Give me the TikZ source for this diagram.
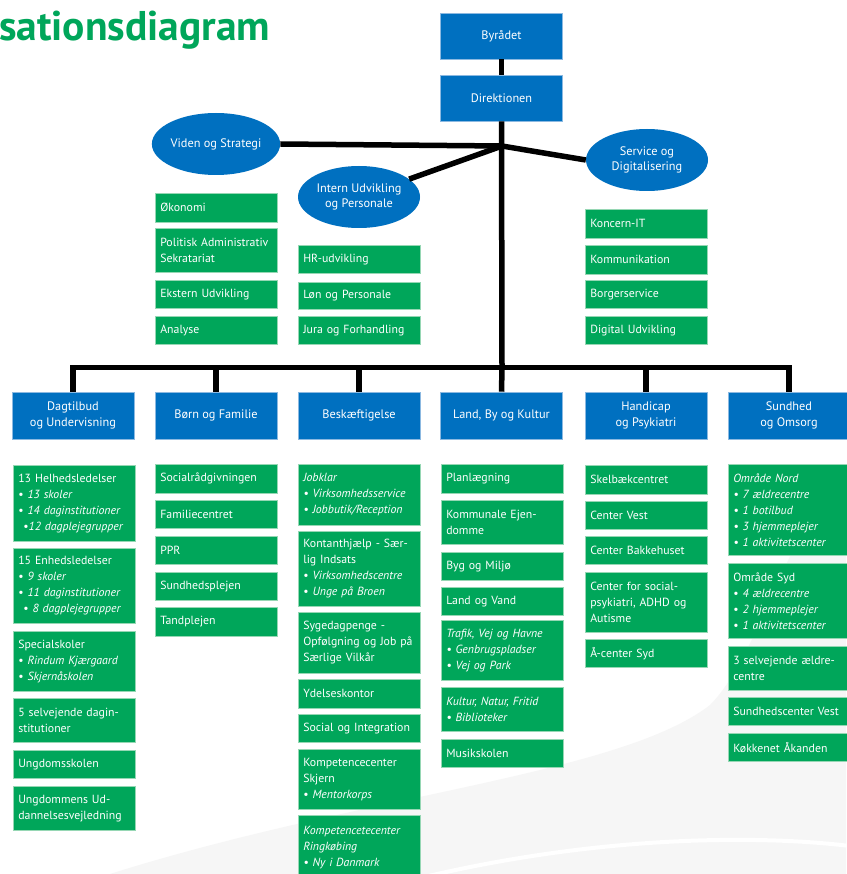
\documentclass[tikz,border=0pt]{standalone}
\usepackage{fontspec}
\setmainfont{PT Sans}
\usetikzlibrary{shapes.geometric}
\definecolor{kblue}{RGB}{0,112,192}
\definecolor{kgreen}{RGB}{0,166,90}
\definecolor{kedge}{RGB}{150,215,180}
\definecolor{kbedge}{RGB}{140,185,225}
\definecolor{kback}{RGB}{246,246,246}
\newcommand{\bul}{\textbullet\ }
\tikzset{
  bluebox/.style={rectangle, fill=kblue, draw=kbedge, line width=0.6pt, text=white, align=center,
    minimum width=122pt, inner sep=2pt, font=\fontsize{12.3}{15.5}\selectfont},
  blueell/.style={ellipse, fill=kblue, text=white, align=center, minimum width=122pt,
    minimum height=62pt, inner sep=0pt, font=\fontsize{12.3}{15.5}\selectfont},
  gbox/.style={rectangle, anchor=north west, fill=kgreen, draw=kedge, line width=0.6pt, text=white,
    text width=112pt, align=left, inner xsep=5pt, inner ysep=2pt,
    font=\fontsize{11.8}{16}\selectfont},
  conn/.style={line width=5.5pt, black},
}
\begin{document}
\begin{tikzpicture}[x=1pt,y=-1pt]
\useasboundingbox (0,0) rectangle (846,874);
\fill[white] (0,0) rectangle (846,874);
% background swoosh
\fill[kback] (110,874) .. controls (360,795) and (620,775) .. (710,705)
  .. controls (760,655) and (790,520) .. (846,470) -- (846,874) -- cycle;
\draw[white, line width=4pt] (420,878) .. controls (600,835) and (760,835) .. (850,846);
% title
\node[anchor=base west, inner sep=0pt, text=kgreen, font=\fontsize{41.5}{46}\bfseries\selectfont] (title) at (-1,41) {sationsdiagram};
% top
\node[bluebox, minimum height=46pt] (byr) at (501.5,36) {Byrådet};
\node[bluebox, minimum height=46pt] (dir) at (501.5,98) {Direktionen};
\coordinate (hub) at (502,146);
\coordinate (bar) at (502,368);
\node[blueell] (viden) at (216,144) {Viden og Strategi};
\node[blueell] (intern) at (359,197) {Intern Udvikling\\og Personale};
\node[blueell] (serv) at (647,160) {Service og\\Digitalisering};
% headers
\node[bluebox, minimum height=47pt] (dag) at (73,415.5) {Dagtilbud\\og Undervisning};
\node[bluebox, minimum height=47pt] (born) at (216,415.5) {Børn og Familie};
\node[bluebox, minimum height=47pt] (besk) at (359,415.5) {Beskæftigelse};
\node[bluebox, minimum height=47pt] (land) at (501.5,415.5) {Land, By og Kultur};
\node[bluebox, minimum height=47pt] (hand) at (646,415.5) {Handicap\\og Psykiatri};
\node[bluebox, minimum height=47pt] (sund) at (789,415.5) {Sundhed\\og Omsorg};
% connectors
\draw[conn] (byr) -- (dir);
\draw[conn] (dir.south) -- (bar);
\draw[conn] (viden.east) -- (hub);
\draw[conn] (hub) -- (intern);
\draw[conn] (hub) -- (serv.west);
\draw[conn] (dag.north) -- ++(0,-24) -| (sund.north);
\draw[conn] (born.north) -- (born.north |- bar);
\draw[conn] (besk.north) -- (besk.north |- bar);
\draw[conn] (land.north) -- (bar);
\draw[conn] (hand.north) -- (hand.north |- bar);
% staff columns
\node[gbox, minimum height=29pt] (v1) at (155,193) {Økonomi};
\node[gbox, minimum height=44pt] (v2) at (155,228) {\mbox{Politisk Administrativ}\\Sekratariat};
\node[gbox, minimum height=28pt] (v3) at (155,280) {Ekstern Udvikling};
\node[gbox, minimum height=28pt] (v4) at (155,316) {Analyse};
\node[gbox, minimum height=28pt] (i1) at (298,245) {HR-udvikling};
\node[gbox, minimum height=27pt] (i2) at (298,282) {Løn og Personale};
\node[gbox, minimum height=28pt] (i3) at (298,316) {\mbox{Jura og Forhandling}};
\node[gbox, minimum height=29pt] (s1) at (585,209) {Koncern-IT};
\node[gbox, minimum height=29pt] (s2) at (585,245) {Kommunikation};
\node[gbox, minimum height=28pt] (s3) at (585,280) {Borgerservice};
\node[gbox, minimum height=28pt] (s4) at (585,316) {Digital Udvikling};
% column 1
\node[gbox, minimum height=76pt] (a1) at (13,465) {13 Helhedsledelser\\\bul\textit{13 skoler}\\\mbox{\bul\textit{14 daginstitutioner}}\\\mbox{\hspace*{5pt}\textbullet\textit{12 dagplejegrupper}}};
\node[gbox, minimum height=75pt] (a2) at (13,548) {15 Enhedsledelser\\\bul\textit{9 skoler}\\\mbox{\bul\textit{11 daginstitutioner}}\\\mbox{\hspace*{5pt}\bul\textit{8 dagplejegrupper}}};
\node[gbox, minimum height=60pt] (a3) at (13,631) {Specialskoler\\\mbox{\bul\textit{Rindum Kjærgaard}}\\\bul\textit{Skjernåskolen}};
\node[gbox, minimum height=44pt] (a4) at (13,698) {\mbox{5 selvejende dagin-}\\stitutioner};
\node[gbox, minimum height=28pt] (a5) at (13,750) {Ungdomsskolen};
\node[gbox, minimum height=44pt] (a6) at (13,786) {Ungdommens Ud-\\\mbox{dannelsesvejledning}};
% column 2
\node[gbox, minimum height=29pt] (b1) at (155,464) {Socialrådgivningen};
\node[gbox, minimum height=28pt] (b2) at (155,500) {Familiecentret};
\node[gbox, minimum height=28pt] (b3) at (155,536) {PPR};
\node[gbox, minimum height=28pt] (b4) at (155,572) {Sundhedsplejen};
\node[gbox, minimum height=29pt] (b5) at (155,607) {Tandplejen};
% column 3
\node[gbox, minimum height=61pt] (c1) at (298,464) {\itshape Jobklar\\\bul Virksomhedsservice\\\mbox{\bul Jobbutik/Reception}};
\node[gbox, minimum height=75pt] (c2) at (298,531) {\mbox{Kontanthjælp - Sær-}\\lig Indsats\\\bul\textit{Virksomhedscentre}\\\bul\textit{Unge på Broen}};
\node[gbox, minimum height=61pt] (c3) at (298,612) {Sygedagpenge -\\\mbox{Opfølgning og Job på}\\Særlige Vilkår};
\node[gbox, minimum height=29pt] (c4) at (298,679) {Ydelseskontor};
\node[gbox, minimum height=28pt] (c5) at (298,714) {\mbox{Social og Integration}};
\node[gbox, minimum height=60pt] (c6) at (298,749) {Kompetencecenter\\Skjern\\\bul\textit{Mentorkorps}};
\node[gbox, minimum height=64pt] (c7) at (298,815) {\itshape \mbox{Kompetencetecenter}\\Ringkøbing\\\bul Ny i Danmark};
% column 4
\node[gbox, minimum height=29pt] (d1) at (441,464) {Planlægning};
\node[gbox, minimum height=44pt] (d2) at (441,500) {Kommunale Ejen-\\domme};
\node[gbox, minimum height=28pt] (d3) at (441,552) {Byg og Miljø};
\node[gbox, minimum height=28pt] (d4) at (441,587) {Land og Vand};
\node[gbox, minimum height=60pt] (d5) at (441,620) {\itshape \mbox{Trafik, Vej og Havne}\\\bul Genbrugspladser\\\bul Vej og Park};
\node[gbox, minimum height=44pt] (d6) at (441,687) {\itshape \mbox{Kultur, Natur, Fritid}\\\bul Biblioteker};
\node[gbox, minimum height=28pt] (d7) at (441,739) {Musikskolen};
% column 5
\node[gbox, minimum height=29pt] (e1) at (585,465) {Skelbækcentret};
\node[gbox, minimum height=28pt] (e2) at (585,501) {Center Vest};
\node[gbox, minimum height=28pt] (e3) at (585,536) {Center Bakkehuset};
\node[gbox, minimum height=60pt] (e4) at (585,572) {Center for social-\\\mbox{psykiatri, ADHD og}\\Autisme};
\node[gbox, minimum height=28pt] (e5) at (585,639) {Å-center Syd};
% column 6
\node[gbox, minimum height=91pt] (f1) at (728,464) {\itshape Område Nord\\\bul 7 ældrecentre\\\bul 1 botilbud\\\bul 3 hjemmeplejer\\\mbox{\bul 1 aktivitetscenter}};
\node[gbox, minimum height=75pt] (f2) at (728,563) {Område Syd\\\bul\textit{4 ældrecentre}\\\bul\textit{2 hjemmeplejer}\\\mbox{\bul\textit{1 aktivitetscenter}}};
\node[gbox, minimum height=44pt] (f3) at (728,646) {\mbox{3 selvejende ældre-}\\centre};
\node[gbox, minimum height=28pt] (f4) at (728,697) {\mbox{Sundhedscenter Vest}};
\node[gbox, minimum height=28pt] (f5) at (728,733) {\mbox{Køkkenet Åkanden}};
\end{tikzpicture}
\end{document}
